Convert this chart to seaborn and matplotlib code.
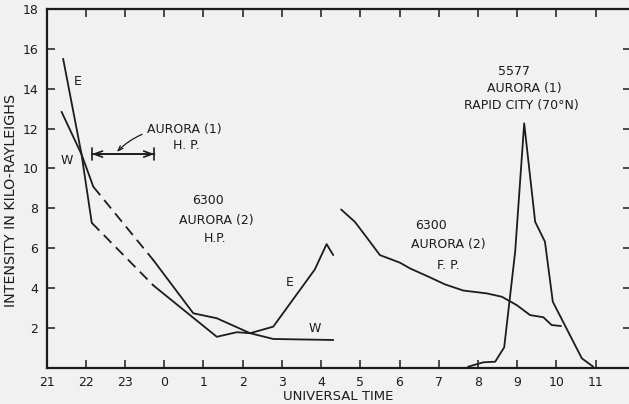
import pandas as pd
import seaborn as sns
import matplotlib.pyplot as plt

# hours after 21 UT on a continuous scale (24 = 0 UT)
hour_ticks = list(range(21, 36))
hour_labels = ["21", "22", "23", "0", "1", "2", "3", "4", "5", "6", "7", "8", "9", "10", "11"]
y_ticks = [2, 4, 6, 8, 10, 12, 14, 16, 18]

# 6300 H.P., east
e_solid1_x = [21.42, 21.89, 22.15]
e_solid1_y = [15.5, 10.7, 7.27]
e_dash_x = [22.15, 23.72]
e_dash_y = [7.27, 4.13]
e_solid2_x = [23.72, 25.34, 25.85, 26.19, 26.78, 27.84, 28.14, 28.31]
e_solid2_y = [4.13, 1.55, 1.78, 1.73, 2.06, 4.93, 6.2, 5.65]

# 6300 H.P., west
w_solid1_x = [21.38, 21.89, 22.19]
w_solid1_y = [12.84, 10.7, 9.08]
w_dash_x = [22.19, 23.72]
w_dash_y = [9.08, 5.4]
w_solid2_x = [23.72, 24.74, 25.34, 26.19, 26.78, 28.31]
w_solid2_y = [5.4, 2.73, 2.48, 1.73, 1.44, 1.39]

# 6300 F.P.
fp_x = [28.51, 28.86, 29.12, 29.5, 30.01, 30.27, 30.78, 31.16, 31.63, 32.22,
        32.61, 32.99, 33.33, 33.67, 33.88, 34.12]
fp_y = [7.94, 7.32, 6.65, 5.65, 5.27, 4.98, 4.53, 4.18, 3.87, 3.73,
        3.56, 3.14, 2.64, 2.53, 2.14, 2.09]

# 5577 Rapid City
rc_x = [31.75, 32.14, 32.44, 32.67, 32.95, 33.18, 33.46, 33.71, 33.91, 34.65, 34.94]
rc_y = [0.05, 0.27, 0.30, 1.02, 5.82, 12.26, 7.32, 6.32, 3.31, 0.47, 0.05]

sns.set_theme(style="ticks")
plt.rcParams["font.family"] = ["DejaVu Sans"]
ink = "#1c1c1c"
bg = "#f1f1f1"

fig = plt.figure(figsize=(6.29, 4.04), dpi=100, facecolor=bg)
ax = fig.add_axes([0.0742, 0.0899, 0.929, 0.8878])
ax.set_facecolor(bg)

segments = [
    (e_solid1_x, e_solid1_y, "-"), (e_dash_x, e_dash_y, (0, (6, 3.5))),
    (e_solid2_x, e_solid2_y, "-"),
    (w_solid1_x, w_solid1_y, "-"), (w_dash_x, w_dash_y, (0, (6, 3.5))),
    (w_solid2_x, w_solid2_y, "-"),
    (fp_x, fp_y, "-"), (rc_x, rc_y, "-"),
]
for xs, ys, ls in segments:
    df = pd.DataFrame({"t": xs, "v": ys})
    sns.lineplot(data=df, x="t", y="v", ax=ax, color=ink, linewidth=1.3,
                 linestyle=ls, sort=False, estimator=None)

ax.set_xlim(21, 35.905)
ax.set_ylim(0, 18)
ax.set_xticks(hour_ticks)
ax.set_xticklabels(hour_labels)
ax.set_yticks(y_ticks)
ax.tick_params(direction="in", length=6, width=1.1, color=ink, labelcolor=ink,
               labelsize=9, top=True, right=True, pad=6)
for s in ax.spines.values():
    s.set_linewidth(1.6)
    s.set_color(ink)
ax.set_xlabel("UNIVERSAL TIME", fontsize=9.5, color=ink)
ax.set_ylabel("INTENSITY IN KILO-RAYLEIGHS", fontsize=10.3, color=ink)
ax.xaxis.set_label_coords(0.4985, -0.062)
ax.yaxis.set_label_coords(-0.049, 0.4675)

txt = dict(color=ink, fontsize=9, ha="center", va="center")
ax.text(21.79, 14.34, "E", **txt)
ax.text(21.51, 10.42, "W", **txt)
ax.text(25.12, 8.37, "6300", **txt)
ax.text(25.33, 7.37, "AURORA (2)", **txt)
ax.text(25.29, 6.49, "H.P.", **txt)
ax.text(27.19, 4.26, "E", **txt)
ax.text(27.84, 1.98, "W", **txt)
ax.text(30.80, 7.16, "6300", **txt)
ax.text(31.24, 6.19, "AURORA (2)", **txt)
ax.text(31.24, 5.15, "F. P.", **txt)
ax.text(32.91, 14.84, "5577", **txt)
ax.text(33.19, 14.01, "AURORA (1)", **txt)
ax.text(33.12, 13.17, "RAPID CITY (70°N)", **txt)
ax.text(24.57, 11.17, "H. P.", **txt)

# duration bar of aurora (1) at H.P.
ax.annotate("", xy=(22.15, 10.72), xytext=(23.75, 10.72),
            arrowprops=dict(arrowstyle="|-|,widthA=0.35,widthB=0.35", color=ink, lw=1.2,
                            shrinkA=0, shrinkB=0))
ax.annotate("", xy=(22.15, 10.72), xytext=(23.75, 10.72),
            arrowprops=dict(arrowstyle="<->,head_length=0.5,head_width=0.18", color=ink, lw=1.2,
                            shrinkA=0, shrinkB=0))
ax.annotate("AURORA (1)", xy=(22.79, 10.83), xytext=(23.55, 11.96),
            color=ink, fontsize=9, ha="left", va="center",
            arrowprops=dict(arrowstyle="->,head_length=0.4,head_width=0.15", color=ink, lw=0.9,
                            connectionstyle="arc3,rad=0.25", shrinkA=1, shrinkB=0))

fig.savefig("out.png", dpi=100, facecolor=bg)
